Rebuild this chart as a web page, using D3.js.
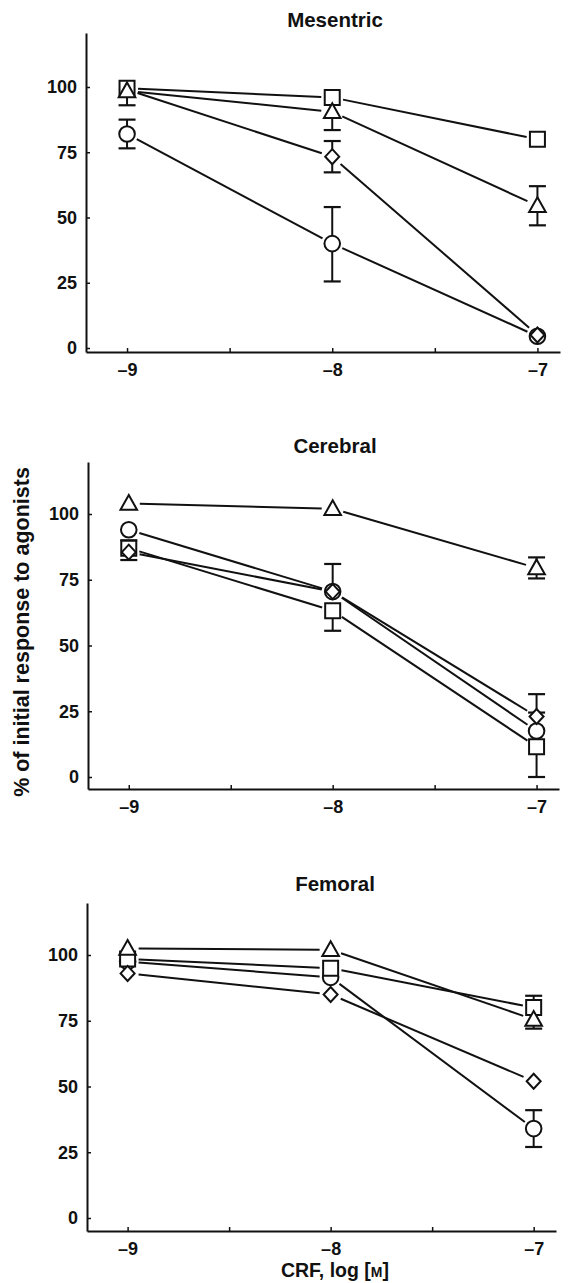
<!DOCTYPE html>
<html>
<head>
<meta charset="utf-8">
<script src="https://cdn.jsdelivr.net/npm/d3@7"></script>
<style>
  body { margin: 0; background: #fff; }
  text { font-family: "Liberation Sans", Arial, Helvetica, sans-serif; font-weight: bold; fill: #111; }
</style>
</head>
<body>
<svg id="svg1" width="570" height="1283"></svg>
<script>

// ---- data ----
var doses = [-9, -8, -7];
var xTicks = [-9, -8.5, -8, -7.5, -7];
var yTicks = [0, 25, 50, 75, 100];
var panelNames = ['Mesentric', 'Cerebral', 'Femoral'];
// series order: circle, square, triangle, diamond
var shapes = ['circle', 'square', 'triangle', 'diamond'];

var mesentricMean = [[82, 40, 4.5], [99.5, 96, 80], [98.5, 90.5, 54.5], [99, 73.3, 5]];
var mesentricErrUp = [[5.5, 14, 0], [0, 0, 0], [0, 0, 7.5], [0, 6, 0]];
var mesentricErrDown = [[5.5, 14.5, 0], [0, 0, 0], [5.5, 7, 7.5], [0, 6, 0]];

var cerebralMean = [[94, 70.5, 17.5], [87, 63.2, 11.5], [104, 102, 79.5], [85.5, 70.5, 23]];
var cerebralErrUp = [[0, 10.5, 14], [3, 0, 0], [0, 0, 4], [0, 0, 1.5]];
var cerebralErrDown = [[0, 0, 0], [4.5, 7.6, 11.5], [0, 0, 4], [0, 0, 0]];

var femoralMean = [[97.5, 91.5, 34], [98.5, 95, 80], [102.5, 102, 75.5], [93, 85, 52]];
var femoralErrUp = [[0, 0, 7], [0, 0, 4.5], [0, 0, 0], [0, 0, 0]];
var femoralErrDown = [[0, 0, 7], [0, 0, 0], [0, 0, 3.5], [0, 0, 0]];

var panelMeans = [mesentricMean, cerebralMean, femoralMean];
var panelErrUp = [mesentricErrUp, cerebralErrUp, femoralErrUp];
var panelErrDown = [mesentricErrDown, cerebralErrDown, femoralErrDown];

// which marker lies on top of which, per panel (bottom first)
var drawOrder = [[0, 3, 1, 2], [0, 1, 3, 2], [0, 1, 3, 2]];

// ---- layout (pixels) ----
var layout = [
    {left: 86, right: 560, bottom: 352, top: 33, y0: 348, y100: 87, titleY: 27},
    {left: 88, right: 559, bottom: 789, top: 462, y0: 777, y100: 514, titleY: 453},
    {left: 87, right: 556, bottom: 1231, top: 903, y0: 1218, y100: 955, titleY: 891}
];
var xDomain = [-9.2, -6.89];

var svg1 = d3.select('#svg1');
svg1.append('rect').attr('width', 570).attr('height', 1283).attr('fill', '#fff');

// marker outline relative to its centre
function shapePath(shape) {
    if (shape == 'circle') {
        var r = 7.8;
        return 'M' + (-r) + ',0A' + r + ',' + r + ' 0 1,0 ' + r + ',0A' + r + ',' + r + ' 0 1,0 ' + (-r) + ',0Z';
    }
    if (shape == 'square') {
        return 'M-7.5,-7.5H7.5V7.5H-7.5Z';
    }
    if (shape == 'triangle') {
        return 'M0,-8.5L8.3,6.3H-8.3Z';
    }
    return 'M0,-7.5L7,0L0,7.5L-7,0Z';
}

function drawPanel(p) {
    var L = layout[p];
    var g = svg1.append('g');

    var xScale = d3.scaleLinear().domain(xDomain).range([L.left, L.right]);
    var yScale = d3.scaleLinear().domain([0, 100]).range([L.y0, L.y100]);
    yScale.domain([yScale.invert(L.bottom), yScale.invert(L.top)]).range([L.bottom, L.top]);

    var xAxis = d3.axisBottom(xScale)
        .tickValues(xTicks)
        .tickSizeInner(-4)
        .tickSizeOuter(0)
        .tickPadding(11)
        .tickFormat(function(d) { return Number.isInteger(d) ? '\u2013' + Math.abs(d) : ''; });

    var yAxis = d3.axisLeft(yScale)
        .tickValues(yTicks)
        .tickSizeInner(-4)
        .tickSizeOuter(0)
        .tickPadding(9);

    var gx = g.append('g')
        .attr('transform', 'translate(0,' + L.bottom + ')')
        .call(xAxis);
    var gy = g.append('g')
        .attr('transform', 'translate(' + L.left + ',0)')
        .call(yAxis);

    [gx, gy].forEach(function(ax) {
        ax.select('.domain').attr('stroke', '#111').attr('stroke-width', 2);
        ax.selectAll('.tick line').attr('stroke', '#111').attr('stroke-width', 1.5);
        ax.selectAll('.tick text')
            .attr('fill', '#111')
            .style('font-size', '18px')
            .style('font-family', '"Liberation Sans", Arial, sans-serif')
            .style('font-weight', 'bold');
    });

    // title
    g.append('text')
        .attr('x', 335)
        .attr('y', L.titleY)
        .attr('text-anchor', 'middle')
        .style('font-size', '20.5px')
        .text(panelNames[p]);

    var means = panelMeans[p];
    var gap = 11;

    // connecting lines, stopped short of the markers
    means.forEach(function(vals, s) {
        for (var i = 0; i < doses.length - 1; i++) {
            var x1 = xScale(doses[i]), y1 = yScale(vals[i]);
            var x2 = xScale(doses[i + 1]), y2 = yScale(vals[i + 1]);
            var len = Math.sqrt((x2 - x1) * (x2 - x1) + (y2 - y1) * (y2 - y1));
            var ux = (x2 - x1) / len, uy = (y2 - y1) / len;
            g.append('line')
                .attr('x1', x1 + ux * gap).attr('y1', y1 + uy * gap)
                .attr('x2', x2 - ux * gap).attr('y2', y2 - uy * gap)
                .attr('stroke', '#111')
                .attr('stroke-width', 2);
        }
    });

    // error bars
    means.forEach(function(vals, s) {
        vals.forEach(function(v, i) {
            var up = panelErrUp[p][s][i];
            var down = panelErrDown[p][s][i];
            var cx = xScale(doses[i]);
            [[up, 1], [down, -1]].forEach(function(e) {
                if (e[0] <= 0) return;
                var yEnd = yScale(v + e[1] * e[0]);
                g.append('line')
                    .attr('x1', cx).attr('x2', cx)
                    .attr('y1', yScale(v)).attr('y2', yEnd)
                    .attr('stroke', '#111').attr('stroke-width', 2);
                g.append('line')
                    .attr('x1', cx - 8.5).attr('x2', cx + 8.5)
                    .attr('y1', yEnd).attr('y2', yEnd)
                    .attr('stroke', '#111').attr('stroke-width', 2.2);
            });
        });
    });

    // markers
    drawOrder[p].forEach(function(s) {
        g.selectAll('.m' + s)
            .data(means[s])
            .enter()
            .append('path')
            .attr('class', 'm' + s)
            .attr('d', shapePath(shapes[s]))
            .attr('transform', function(d, i) {
                return 'translate(' + xScale(doses[i]) + ',' + yScale(d) + ')';
            })
            .attr('fill', '#fff')
            .attr('stroke', '#111')
            .attr('stroke-width', 2);
    });
}

for (var p = 0; p < 3; p++) {
    drawPanel(p);
}

// shared axis labels
svg1.append('text')
    .attr('transform', 'translate(29,632) rotate(-90)')
    .attr('text-anchor', 'middle')
    .style('font-size', '21.5px')
    .text('% of initial response to agonists');

var xLab = svg1.append('text')
    .attr('x', 335)
    .attr('y', 1277)
    .attr('text-anchor', 'middle')
    .style('font-size', '19.5px');
xLab.append('tspan').text('CRF, log [');
xLab.append('tspan').style('font-size', '14px').text('M');
xLab.append('tspan').text(']');

</script>
</body>
</html>
